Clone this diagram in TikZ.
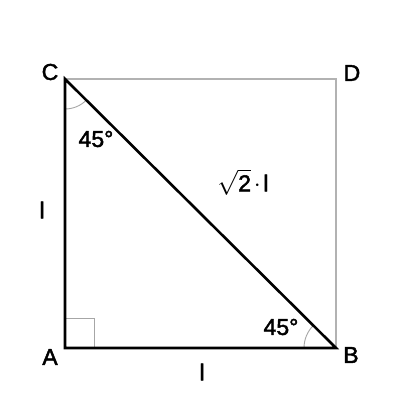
\documentclass[tikz,border=0pt]{standalone}
\usepackage{fontspec}
\setmainfont[FakeBold=2]{Liberation Sans}
\begin{document}
\begin{tikzpicture}[x=1pt,y=-1pt,
  side/.style={line width=2.6pt,black},
  aux/.style={line width=1.3pt,black!30},
  anglemark/.style={line width=0.9pt,black!35},
  lbl/.style={font=\fontsize{23}{26}\selectfont},
  angl/.style={font=\fontsize{23}{26}\selectfont}]
\useasboundingbox (0,0) rectangle (400,420);
\coordinate (A) at (65,348);
\coordinate (B) at (336,348);
\coordinate (C) at (65,79);
\coordinate (D) at (336,79);
\draw[aux] (C) -- (D) -- (B);
\draw[anglemark] (65,318) -- (94,318) -- (94,348);
\draw[anglemark] (65,109) arc[start angle=90,end angle=45,radius=30];
\draw[anglemark] (304,348) arc[start angle=180,end angle=225,radius=32];
\draw[side,line join=miter] (C) -- (A) -- (B) -- cycle;
\node[lbl] (lA) at (50,357) {A};
\node[lbl] (lB) at (351,355) {B};
\node[lbl] (lC) at (50,72) {C};
\node[lbl] (lD) at (352,73) {D};
\node[angl] (a1) at (96,139) {45°};
\node[angl] (a2) at (281,327) {45°};
\node[lbl] (h) at (243,182) {$\sqrt{\hbox{2}}\mkern2mu\cdot\mkern2mu$l};
\node[lbl] (s1) at (42,210) {l};
\node[lbl] (s2) at (202,372) {l};
\end{tikzpicture}
\end{document}
